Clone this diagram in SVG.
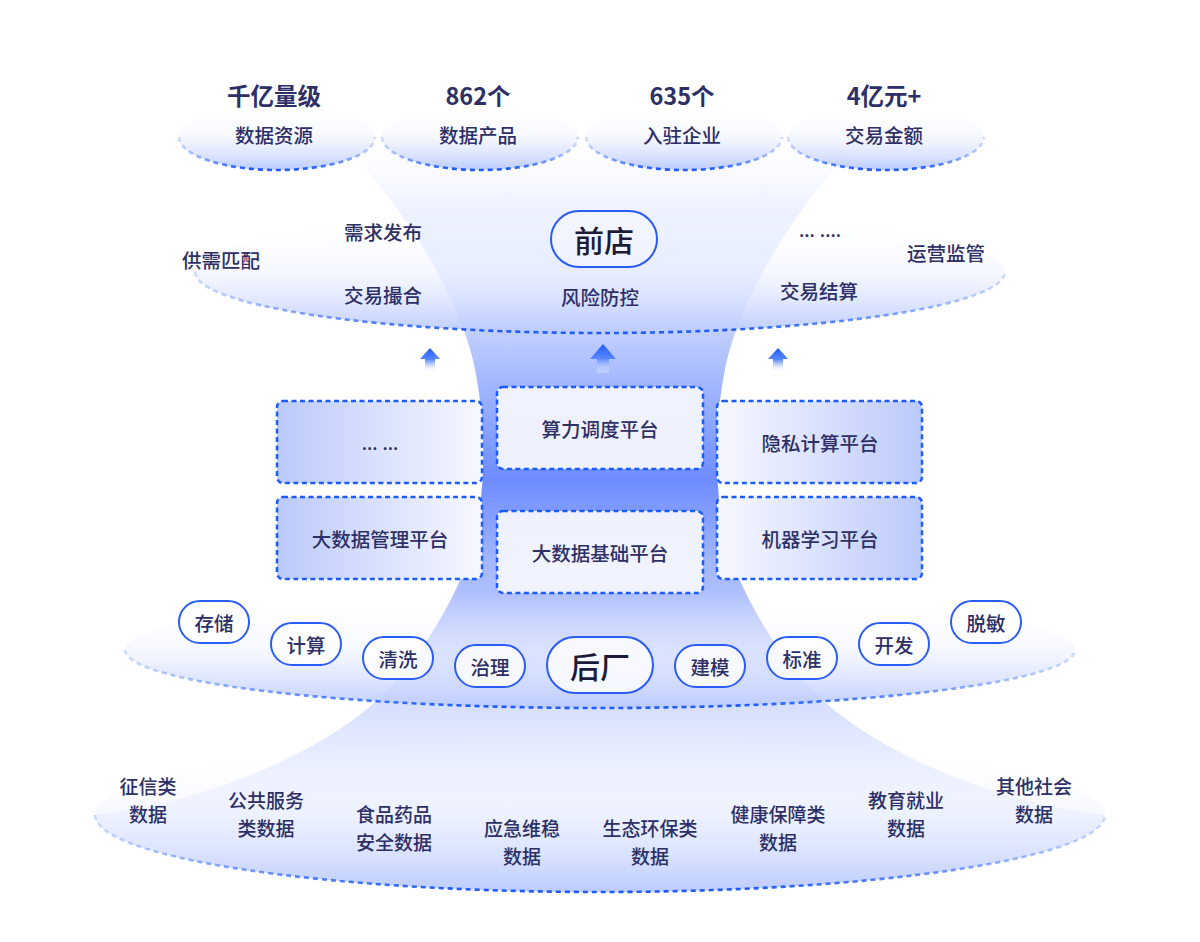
<svg xmlns="http://www.w3.org/2000/svg" width="1200" height="942" viewBox="0 0 1200 942">
<defs>
<linearGradient id="funnel" gradientUnits="userSpaceOnUse" x1="0" y1="130" x2="0" y2="892">
<stop offset="0" stop-color="#ffffff" stop-opacity="0"/>
<stop offset="0.09" stop-color="#eef2ff" stop-opacity="0.85"/>
<stop offset="0.22" stop-color="#d9e2ff"/>
<stop offset="0.28" stop-color="#bac9ff"/>
<stop offset="0.46" stop-color="#6d8cff"/>
<stop offset="0.565" stop-color="#a3b6fe"/>
<stop offset="0.68" stop-color="#c2cefd"/>
<stop offset="0.80" stop-color="#e3e9ff"/>
<stop offset="0.88" stop-color="#eef2ff"/>
<stop offset="1" stop-color="#e3e9ff"/>
</linearGradient>
<linearGradient id="ell" x1="0" y1="0" x2="0" y2="1">
<stop offset="0" stop-color="#ffffff" stop-opacity="0"/>
<stop offset="0.5" stop-color="#eef2ff" stop-opacity="0.55"/>
<stop offset="1" stop-color="#bccbff" stop-opacity="1"/>
</linearGradient>
<linearGradient id="dash" x1="0" y1="0" x2="1" y2="0">
<stop offset="0" stop-color="#1f5cff" stop-opacity="0.2"/>
<stop offset="0.2" stop-color="#1f5cff" stop-opacity="0.7"/>
<stop offset="0.35" stop-color="#1f5cff" stop-opacity="1"/>
<stop offset="0.65" stop-color="#1f5cff" stop-opacity="1"/>
<stop offset="0.8" stop-color="#1f5cff" stop-opacity="0.7"/>
<stop offset="1" stop-color="#1f5cff" stop-opacity="0.2"/>
</linearGradient>
<linearGradient id="platL" x1="0" y1="0" x2="1" y2="0">
<stop offset="0" stop-color="#bccafb"/>
<stop offset="1" stop-color="#f7f8ff"/>
</linearGradient>
<linearGradient id="platR" x1="0" y1="0" x2="1" y2="0">
<stop offset="0" stop-color="#f7f8ff"/>
<stop offset="1" stop-color="#bccafb"/>
</linearGradient>
<linearGradient id="arrow" x1="0" y1="0" x2="0" y2="1">
<stop offset="0" stop-color="#1f5cff"/>
<stop offset="0.5" stop-color="#5a86ff"/>
<stop offset="1" stop-color="#ffffff" stop-opacity="0.2"/>
</linearGradient>
</defs>
<style>
.ellf{fill:url(#ell);}
.ellb{fill:none;stroke:url(#dash);stroke-width:2.6;stroke-dasharray:5 4;}
.plat{stroke:#1b5cff;stroke-width:2.5;stroke-dasharray:5 3.5;}
.pc{fill:#f4f6fe;fill-opacity:0.95;}
.pill{fill:#ffffff;fill-opacity:0.8;stroke:#2a5cf6;stroke-width:2;}
.t{font-family:"Noto Sans CJK SC","Noto Sans",sans-serif;fill:#2d2f66;text-anchor:middle;dominant-baseline:central;font-size:19.5px;font-weight:500;}
.d{font-size:19px;}
.num{font-size:23.5px;font-weight:600;}
.big{font-size:30px;font-weight:500;fill:#1c1c3a;}
.dots{font-family:"Noto Sans","DejaVu Sans",sans-serif;}
.arw{fill:url(#arrow);}
</style>
<rect width="1200" height="942" fill="#ffffff"/>

<g id="funnel-shape">
<path d="M 330,130 C 400,200 465,300 477,380 C 487,440 488,520 458,585 C 430,645 390,695 350,722 C 290,765 190,805 95,815 A 505 77 0 0 0 1105,815 C 1010,805 910,765 850,722 C 810,695 770,645 742,585 C 712,520 713,440 723,380 C 735,300 800,200 870,130 Z" fill="url(#funnel)"/>
</g>

<g id="data-sources">
<ellipse class="ellf" cx="600" cy="815" rx="505" ry="77"/>
<path class="ellb" d="M 95,815 A 505 77 0 0 0 1105,815"/>
<text class="t d" x="148" y="785">征信类</text><text class="t d" x="148" y="813">数据</text>
<text class="t d" x="266" y="799">公共服务</text><text class="t d" x="266" y="827">类数据</text>
<text class="t d" x="394" y="813">食品药品</text><text class="t d" x="394" y="841">安全数据</text>
<text class="t d" x="522" y="827">应急维稳</text><text class="t d" x="522" y="855">数据</text>
<text class="t d" x="650" y="827">生态环保类</text><text class="t d" x="650" y="855">数据</text>
<text class="t d" x="778" y="813">健康保障类</text><text class="t d" x="778" y="841">数据</text>
<text class="t d" x="906" y="799">教育就业</text><text class="t d" x="906" y="827">数据</text>
<text class="t d" x="1034" y="785">其他社会</text><text class="t d" x="1034" y="813">数据</text>
</g>

<g id="back-factory">
<ellipse class="ellf" cx="600" cy="650" rx="475" ry="58"/>
<path class="ellb" d="M 125,650 A 475 58 0 0 0 1075,650"/>
</g>

<g id="front-store">
<ellipse class="ellf" cx="600" cy="272" rx="405" ry="61"/>
<path class="ellb" d="M 195,272 A 405 61 0 0 0 1005,272"/>
</g>

<g id="stat-1">
<ellipse class="ellf" cx="277" cy="137" rx="98" ry="33"/>
<path class="ellb" d="M 179,137 A 98 33 0 0 0 375,137"/>
<text class="t num" x="274" y="95">千亿量级</text>
<text class="t" x="274" y="134">数据资源</text>
</g>
<g id="stat-2">
<ellipse class="ellf" cx="480" cy="137" rx="98" ry="33"/>
<path class="ellb" d="M 382,137 A 98 33 0 0 0 578,137"/>
<text class="t num" x="478" y="95">862个</text>
<text class="t" x="478" y="134">数据产品</text>
</g>
<g id="stat-3">
<ellipse class="ellf" cx="684" cy="137" rx="98" ry="33"/>
<path class="ellb" d="M 586,137 A 98 33 0 0 0 782,137"/>
<text class="t num" x="682" y="95">635个</text>
<text class="t" x="682" y="134">入驻企业</text>
</g>
<g id="stat-4">
<ellipse class="ellf" cx="886" cy="137" rx="98" ry="33"/>
<path class="ellb" d="M 788,137 A 98 33 0 0 0 984,137"/>
<text class="t num" x="884" y="95">4亿元+</text>
<text class="t" x="884" y="134">交易金额</text>
</g>

<g id="front-store-labels">
<text class="t" x="221" y="259">供需匹配</text>
<text class="t" x="383" y="231">需求发布</text>
<text class="t" x="383" y="294">交易撮合</text>
<text class="t" x="600" y="296">风险防控</text>
<text class="t dots" x="820" y="229">... ....</text>
<text class="t" x="819" y="290">交易结算</text>
<text class="t" x="946" y="252">运营监管</text>
</g>
<g id="node-qiandian">
<rect x="551" y="211" width="106" height="56" rx="28" fill="#ffffff" fill-opacity="0.3" stroke="#2a5cf6" stroke-width="2"/>
<text class="t big" x="604" y="239">前店</text>
</g>

<g id="connectors">
<path class="arw" d="M 430,348 L 440,359 L 435,359 L 435,371 L 425,371 L 425,359 L 420,359 Z"/>
<path class="arw" d="M 603,344 L 616,359 L 609,359 L 609,373 L 597,373 L 597,359 L 590,359 Z"/>
<path class="arw" d="M 778,348 L 788,359 L 783,359 L 783,371 L 773,371 L 773,359 L 768,359 Z"/>
</g>

<g id="plat-etc">
<rect class="plat" x="277" y="401" width="205" height="82" rx="6" fill="url(#platL)"/>
<text class="t dots" x="380" y="442">… …</text>
</g>
<g id="plat-bigdata-mgmt">
<rect class="plat" x="277" y="497" width="205" height="82" rx="6" fill="url(#platL)"/>
<text class="t" x="380" y="538">大数据管理平台</text>
</g>
<g id="plat-compute">
<rect class="plat pc" x="497" y="387" width="206" height="82" rx="6"/>
<text class="t" x="600" y="428">算力调度平台</text>
</g>
<g id="plat-bigdata-base">
<rect class="plat pc" x="497" y="511" width="206" height="82" rx="6"/>
<text class="t" x="600" y="552">大数据基础平台</text>
</g>
<g id="plat-privacy">
<rect class="plat" x="717" y="401" width="205" height="82" rx="6" fill="url(#platR)"/>
<text class="t" x="820" y="442">隐私计算平台</text>
</g>
<g id="plat-ml">
<rect class="plat" x="717" y="497" width="205" height="82" rx="6" fill="url(#platR)"/>
<text class="t" x="820" y="538">机器学习平台</text>
</g>

<g id="pill-cunchu"><rect class="pill" x="179" y="601" width="70" height="42" rx="21"/><text class="t" x="214" y="622">存储</text></g>
<g id="pill-jisuan"><rect class="pill" x="271" y="623" width="70" height="42" rx="21"/><text class="t" x="306" y="644">计算</text></g>
<g id="pill-qingxi"><rect class="pill" x="363" y="637" width="70" height="42" rx="21"/><text class="t" x="398" y="658">清洗</text></g>
<g id="pill-zhili"><rect class="pill" x="455" y="645" width="70" height="42" rx="21"/><text class="t" x="490" y="666">治理</text></g>
<g id="node-houchang"><rect class="pill" x="547" y="637" width="106" height="56" rx="28"/><text class="t big" x="600" y="665">后厂</text></g>
<g id="pill-jianmo"><rect class="pill" x="675" y="645" width="70" height="42" rx="21"/><text class="t" x="710" y="666">建模</text></g>
<g id="pill-biaozhun"><rect class="pill" x="767" y="637" width="70" height="42" rx="21"/><text class="t" x="802" y="658">标准</text></g>
<g id="pill-kaifa"><rect class="pill" x="859" y="623" width="70" height="42" rx="21"/><text class="t" x="894" y="644">开发</text></g>
<g id="pill-tuomin"><rect class="pill" x="951" y="601" width="70" height="42" rx="21"/><text class="t" x="986" y="622">脱敏</text></g>
</svg>
